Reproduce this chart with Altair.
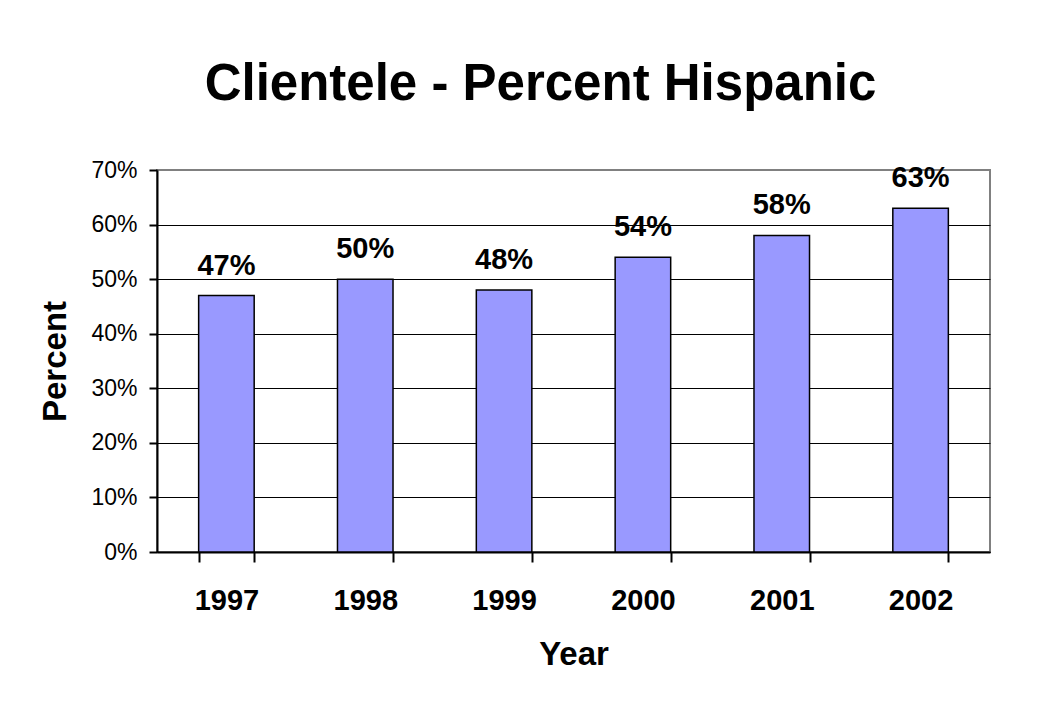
import altair as alt
import pandas as pd

years = ["1997", "1998", "1999", "2000", "2001", "2002"]
percent = [0.47, 0.50, 0.48, 0.54, 0.58, 0.63]
y_ticks = [0, 0.1, 0.2, 0.3, 0.4, 0.5, 0.6, 0.7]

df = pd.DataFrame({"Year": years, "Percent": percent})
FONT = "Liberation Sans"

x = alt.X(
    "Year:N",
    sort=years,
    scale=alt.Scale(paddingInner=0.6, paddingOuter=0.3),
    axis=alt.Axis(
        title="Year",
        labelAngle=0,
        labelFont=FONT,
        labelFontSize=29,
        labelFontWeight="bold",
        labelColor="black",
        labelBaseline="alphabetic",
        labelPadding=47,
        tickBand="extent",
        tickSize=10,
        tickWidth=2,
        tickColor="black",
        domainColor="black",
        domainWidth=2,
        grid=False,
        titleFont=FONT,
        titleFontSize=33,
        titleFontWeight="bold",
        titleColor="black",
        titleBaseline="alphabetic",
        titleY=112,
    ),
)

y = alt.Y(
    "Percent:Q",
    scale=alt.Scale(domain=[0, 0.7], nice=False),
    axis=alt.Axis(
        title="Percent",
        values=y_ticks,
        format=".0%",
        labelFont=FONT,
        labelFontSize=23,
        labelColor="black",
        labelPadding=12,
        tickSize=8,
        tickWidth=2,
        tickColor="black",
        domainColor="black",
        domainWidth=2,
        grid=True,
        gridColor={"condition": {"test": "datum.value >= 0.7", "value": "#808080"}, "value": "black"},
        gridWidth=1,
        titleFont=FONT,
        titleFontSize=33,
        titleFontWeight="bold",
        titleColor="black",
        titleBaseline="alphabetic",
        titleAngle=270,
        titleAlign="center",
        titleX=-92,
        titleY=191,
    ),
)

bars = alt.Chart(df).mark_bar(color="#9999FF", stroke="black", strokeWidth=1.5).encode(x=x, y=y)

labels = alt.Chart(df).mark_text(
    dy=-21, baseline="alphabetic", fontSize=29, fontWeight="bold", font=FONT, color="black"
).encode(x=x, y=y, text=alt.Text("Percent:Q", format=".0%"))

chart = (
    alt.layer(bars, labels)
    .properties(
        width=833,
        height=382,
        title=alt.TitleParams(
            "Clientele - Percent Hispanic",
            font=FONT,
            fontSize=51,
            fontWeight="bold",
            color="black",
            anchor="middle",
            dx=-33,
            offset=8,
            baseline="alphabetic",
        ),
        autosize=alt.AutoSizeParams(type="none"),
        padding={"left": 149, "top": 162, "right": 50, "bottom": 140},
        background="white",
    )
    .configure_view(stroke="#808080", strokeWidth=2)
)

chart.save("out.html", embed_options={"renderer": "svg", "actions": False})
